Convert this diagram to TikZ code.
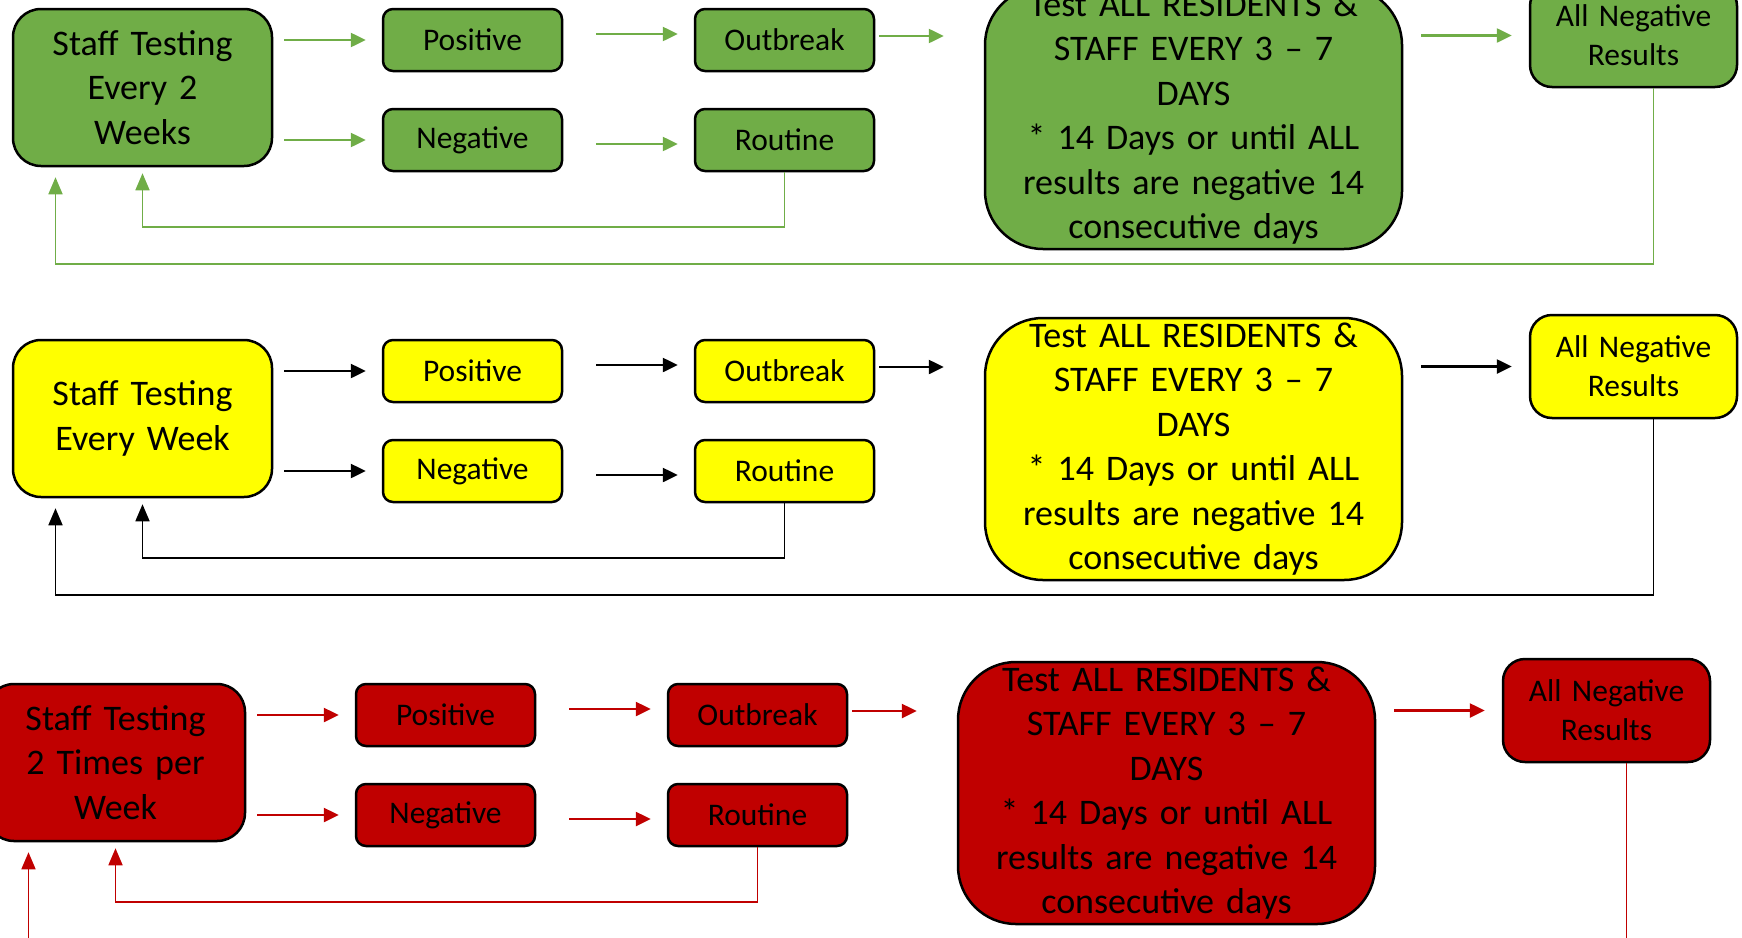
\documentclass[tikz,border=0pt]{standalone}
\usepackage{fontspec}
\setmainfont{Carlito}
\usetikzlibrary{arrows.meta}

\definecolor{boxgreen}{HTML}{70AD47}
\definecolor{boxyellow}{HTML}{FFFF00}
\definecolor{boxred}{HTML}{C00000}
\definecolor{linegreen}{HTML}{70AD47}
\definecolor{linered}{HTML}{C00000}

\tikzset{
  basebox/.style={draw=black, line width=2.5pt, inner sep=0pt, align=center},
  staffbox/.style={basebox, rounded corners=28pt, text width=259pt, minimum height=157pt,
    font=\fontsize{36}{44.5}\selectfont},
  smallbox/.style={basebox, rounded corners=10pt, minimum width=179pt, minimum height=62pt,
    font=\fontsize{31.5}{39}\selectfont},
  testbox/.style={basebox, rounded corners=58pt, text width=417pt, minimum height=262pt,
    font=\fontsize{36}{44.5}\selectfont},
  resbox/.style={basebox, rounded corners=22pt, text width=207pt, minimum height=103pt,
    font=\fontsize{31.5}{39}\selectfont},
  arr/.style={line width=2.5pt, -{Triangle[length=15pt,width=14pt]}},
  fb/.style={line width=1.6pt, -{Triangle[length=17pt,width=14pt]}}
}

\begin{document}
\begin{tikzpicture}[x=1pt, y=-1pt]

    % Area visibile
    \useasboundingbox (0,0) rectangle (1742,937);
    \clip (0,0) rectangle (1742,937);

    % Una riga per ogni frequenza di test
    \foreach \r/\boxc/\linec/\dx/\dy/\stafftext in {
        g/boxgreen/linegreen/0/0/{Staff Testing\\Every 2\\Weeks},
        y/boxyellow/black/0/331/{Staff Testing\\Every Week},
        r/boxred/linered/-27/675/{Staff Testing\\2 Times per\\Week}} {
    \begin{scope}[shift={(\dx,\dy)}]

        % Caselle
        \node[staffbox, fill=\boxc] (staff\r) at (142.5,87.5) {\stafftext};
        \node[smallbox, fill=\boxc] (pos\r) at (472.5,40) {Positive};
        \node[smallbox, fill=\boxc] (neg\r) at (472.5,140) {Negative};
        \node[smallbox, fill=\boxc] (outb\r) at (784.5,40) {Outbreak};
        \node[smallbox, fill=\boxc] (rout\r) at (784.5,140) {Routine};
        \node[testbox, fill=\boxc] (test\r) at (1193.5,118)
            {Test ALL RESIDENTS \&\\STAFF EVERY 3 – 7\\DAYS\\{*} 14 Days or until ALL\\results are negative 14\\consecutive days};
        \node[resbox, fill=\boxc] (allneg\r) at (1633.5,35.5) {All Negative\\Results};

        % Frecce in avanti
        \draw[arr, \linec, shorten <=11pt, shorten >=16pt] (staff\r.east |- pos\r.west) -- (pos\r.west);
        \draw[arr, \linec, shorten <=11pt, shorten >=16pt] (staff\r.east |- neg\r.west) -- (neg\r.west);
        \draw[arr, \linec, shorten <=33pt, shorten >=16pt] ([yshift=6pt]pos\r.east) -- ([yshift=6pt]outb\r.west);
        \draw[arr, \linec, shorten <=33pt, shorten >=16pt] ([yshift=-4pt]neg\r.east) -- ([yshift=-4pt]rout\r.west);
        \draw[arr, \linec, shorten <=4pt, shorten >=40pt] ([yshift=4pt]outb\r.east) -- ([yshift=4pt]test\r.west |- outb\r.east);
        \draw[arr, \linec, shorten <=18pt, shorten >=17pt] (test\r.east |- allneg\r.west) -- (allneg\r.west);

        % Ritorno al test del personale
        \draw[fb, \linec] (rout\r.south) -- ++(0,54.5) -| ([yshift=-6pt]staff\r.south);
        \draw[fb, \linec] ([xshift=20pt]allneg\r.south) -- ++(0,176) -| ([xshift=-87pt,yshift=-10pt]staff\r.south);

    \end{scope}
    }

\end{tikzpicture}
\end{document}
